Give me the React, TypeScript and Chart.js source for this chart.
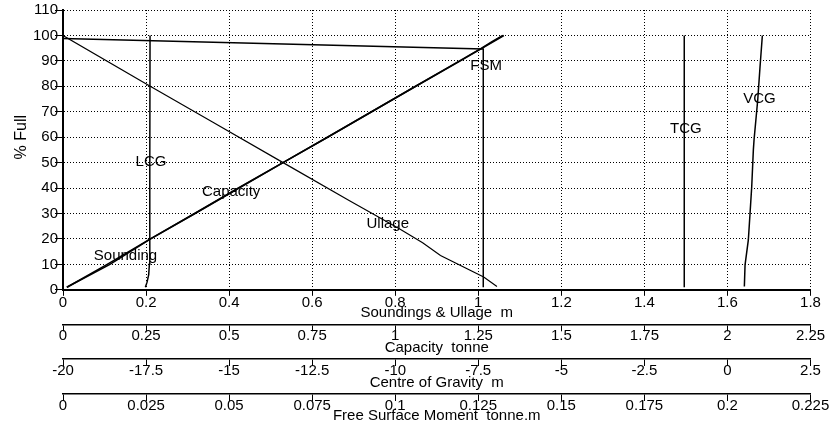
import { useEffect, useRef } from "react";
import { Chart, registerables } from "chart.js";

Chart.register(...registerables);

// Tank calibration curves: every curve is plotted against % full.
const soundingLevels = [1, 10, 20, 30, 40, 50, 60, 70, 80, 90, 95, 97.5, 100];
const soundingValues = [0.009, 0.113, 0.211, 0.318, 0.424, 0.53, 0.637, 0.743, 0.849, 0.955, 1.008, 1.033, 1.059];

const capacityLevels = [1, 10, 20, 30, 40, 50, 60, 70, 80, 90, 100];
const capacityValues = [0.012, 0.133, 0.263, 0.396, 0.528, 0.662, 0.796, 0.929, 1.062, 1.196, 1.327];

const ullageLevels = [100, 80, 66, 50, 35, 24, 18.5, 13.5, 5, 1.3];
const ullageValues = [0, 0.21, 0.36, 0.53, 0.69, 0.81, 0.866, 0.909, 1.013, 1.045];

const lcgLevels = [1, 3, 6, 10, 20, 50, 100];
const lcgValues = [-17.52, -17.47, -17.42, -17.4, -17.39, -17.385, -17.38];

const tcgLevels = [1, 100];
const tcgValues = [-1.3, -1.3];

const vcgLevels = [1.3, 9.8, 19.6, 30, 40.6, 55, 59, 74.7, 87.7, 100];
const vcgValues = [0.509, 0.53, 0.629, 0.68, 0.731, 0.78, 0.801, 0.912, 0.981, 1.051];

const fsmLevels = [1, 50, 94.7, 98.8];
const fsmValues = [0.1265, 0.1265, 0.1265, 0];

// Axis ticks
const fullTicks = [0, 10, 20, 30, 40, 50, 60, 70, 80, 90, 100, 110];
const soundingTicks = [0, 0.2, 0.4, 0.6, 0.8, 1, 1.2, 1.4, 1.6, 1.8];
const capacityTicks = [0, 0.25, 0.5, 0.75, 1, 1.25, 1.5, 1.75, 2, 2.25];
const gravityTicks = [-20, -17.5, -15, -12.5, -10, -7.5, -5, -2.5, 0, 2.5];
const fsmTicks = [0, 0.025, 0.05, 0.075, 0.1, 0.125, 0.15, 0.175, 0.2, 0.225];

// Curve names, placed in soundings (m) / % full coordinates
const curveLabels = [
  { text: "Sounding", x: 0.1505, y: 13.4 },
  { text: "Capacity", x: 0.405, y: 38.5 },
  { text: "Ullage", x: 0.782, y: 26 },
  { text: "LCG", x: 0.212, y: 50.3 },
  { text: "FSM", x: 1.019, y: 88 },
  { text: "TCG", x: 1.5, y: 63.2 },
  { text: "VCG", x: 1.677, y: 75.2 },
];

const FONT_FAMILY = '"Liberation Sans", Arial, Helvetica, sans-serif';
const BLACK = "#000";

const pairs = (levels: number[], values: number[]) =>
  levels.map((level, i) => ({ x: values[i], y: level }));

const fixedTicks = (list: number[]) => (scale: any) => {
  scale.ticks = list.map((value) => ({ value }));
};

const curveLabelPlugin = {
  id: "curveLabels",
  afterDatasetsDraw(chart: any) {
    const { ctx, scales } = chart;
    ctx.save();
    ctx.fillStyle = BLACK;
    ctx.font = `15px ${FONT_FAMILY}`;
    ctx.textAlign = "center";
    ctx.textBaseline = "middle";
    for (const label of curveLabels) {
      ctx.fillText(label.text, scales.x.getPixelForValue(label.x), scales.y.getPixelForValue(label.y));
    }
    // vertical axis title
    ctx.translate(22, scales.y.getPixelForValue(60));
    ctx.rotate(-Math.PI / 2);
    ctx.font = `16px ${FONT_FAMILY}`;
    ctx.fillText("% Full", 0, 0);
    ctx.restore();
  },
};

const tickFont = { family: FONT_FAMILY, size: 15 };

function secondaryAxis(list: number[], min: number, max: number, title: string, weight: number, height: number) {
  return {
    type: "linear" as const,
    position: "bottom" as const,
    weight,
    min,
    max,
    afterBuildTicks: fixedTicks(list),
    afterFit: (scale: any) => {
      scale.height = height;
    },
    grid: {
      display: true,
      drawOnChartArea: false,
      drawTicks: true,
      tickLength: 7,
      tickColor: BLACK,
      tickWidth: 1,
      color: BLACK,
    },
    border: { display: true, color: BLACK, width: 1.5 },
    ticks: {
      color: BLACK,
      font: tickFont,
      padding: -4,
      maxRotation: 0,
      autoSkip: false,
      callback: (value: number) => String(value),
    },
    title: {
      display: true,
      text: title,
      color: BLACK,
      font: tickFont,
      padding: { top: 0, bottom: 2 },
    },
  };
}

export default function App() {
  const canvasRef = useRef<HTMLCanvasElement | null>(null);

  useEffect(() => {
    if (!canvasRef.current) return;
    const line = (label: string, data: any[], axis: string, width: number) => ({
      label,
      data,
      xAxisID: axis,
      yAxisID: "y",
      showLine: true,
      borderColor: BLACK,
      backgroundColor: BLACK,
      borderWidth: width,
      pointRadius: 0,
      tension: 0,
      fill: false,
    });

    const chart = new Chart(canvasRef.current, {
      type: "scatter",
      data: {
        datasets: [
          line("Sounding", pairs(soundingLevels, soundingValues), "x", 1.6),
          line("Capacity", pairs(capacityLevels, capacityValues), "xCap", 1.6),
          line("Ullage", pairs(ullageLevels, ullageValues), "x", 1.2),
          line("LCG", pairs(lcgLevels, lcgValues), "xCog", 1.5),
          line("TCG", pairs(tcgLevels, tcgValues), "xCog", 1.5),
          line("VCG", pairs(vcgLevels, vcgValues), "xCog", 1.5),
          line("FSM", pairs(fsmLevels, fsmValues), "xFsm", 1.5),
        ],
      },
      options: {
        animation: false,
        responsive: true,
        maintainAspectRatio: false,
        events: [],
        layout: { padding: { left: 0, top: 10, right: 22.5, bottom: 0 } },
        plugins: {
          legend: { display: false },
          tooltip: { enabled: false },
        },
        scales: {
          y: {
            type: "linear",
            position: "left",
            min: 0,
            max: 110,
            afterBuildTicks: fixedTicks(fullTicks),
            afterFit: (scale: any) => {
              scale.width = 63;
            },
            grid: {
              color: BLACK,
              lineWidth: 1,
              tickLength: 8,
              tickColor: BLACK,
              tickBorderDash: [10, 0],
            },
            border: { display: true, color: BLACK, width: 2, dash: [1, 2] },
            ticks: {
              color: BLACK,
              font: tickFont,
              padding: -3,
              autoSkip: false,
              callback: (value: number) => String(value),
            },
          },
          x: {
            type: "linear",
            position: "bottom",
            weight: 0,
            min: 0,
            max: 1.8,
            afterBuildTicks: fixedTicks(soundingTicks),
            afterFit: (scale: any) => {
              scale.height = 34.5;
            },
            grid: {
              color: BLACK,
              lineWidth: 1,
              tickLength: 6,
              tickColor: BLACK,
              tickBorderDash: [10, 0],
            },
            border: { display: true, color: BLACK, width: 2, dash: [1, 2] },
            ticks: {
              color: BLACK,
              font: tickFont,
              padding: -2,
              maxRotation: 0,
              autoSkip: false,
              callback: (value: number) => String(value),
            },
            title: {
              display: true,
              text: "Soundings & Ullage  m",
              color: BLACK,
              font: tickFont,
              padding: { top: 0, bottom: 2 },
            },
          },
          xCap: secondaryAxis(capacityTicks, 0, 2.25, "Capacity  tonne", 1, 34.7),
          xCog: secondaryAxis(gravityTicks, -20, 2.5, "Centre of Gravity  m", 2, 35),
          xFsm: secondaryAxis(fsmTicks, 0, 0.225, "Free Surface Moment  tonne.m", 3, 33),
        },
      } as any,
      plugins: [curveLabelPlugin],
    });

    return () => chart.destroy();
  }, []);

  return (
    <div style={{ position: "absolute", left: 0, top: 0, width: 833, height: 427, background: "#fff" }}>
      <canvas ref={canvasRef} />
    </div>
  );
}
